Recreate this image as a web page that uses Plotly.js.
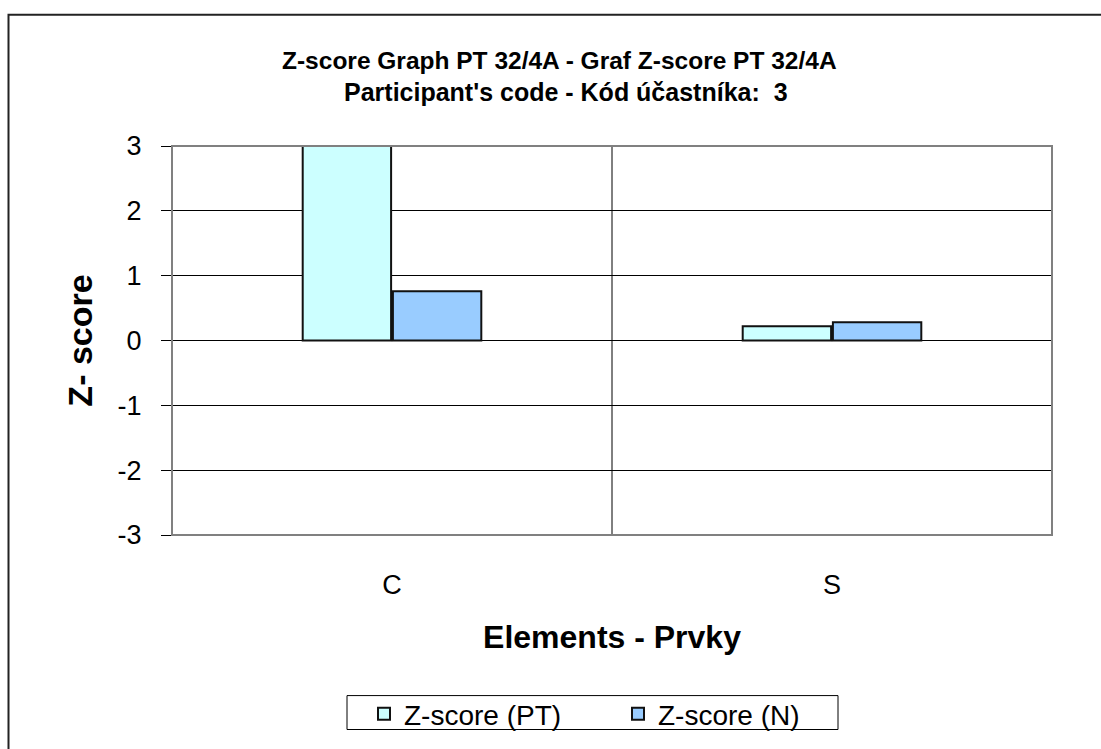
<!DOCTYPE html>
<html>
<head>
<meta charset="utf-8">
<script src="https://cdn.plot.ly/plotly-3.0.1.min.js"></script>
<style>html,body{margin:0;padding:0;background:#fff;}#chart{width:1101px;height:749px;}</style>
</head>
<body>
<div id="chart"></div>
<script>
// Data
var categories = ["C", "S"];
var seriesNames = ["Z-score (PT)", "Z-score (N)"];
var zPT = [3.4, 0.22];   // C value exceeds the axis (clipped at 3)
var zN = [0.76, 0.28];
var yTickVals = [-3, -2, -1, 0, 1, 2, 3];
var yTickLabels = ["-3", "-2", "-1", "0", "1", "2", "3"];
var titleLine1 = "Z-score Graph PT 32/4A - Graf Z-score PT 32/4A";
var titleLine2 = "Participant's code - Kód účastníka:  3";
var xTitle = "Elements - Prvky";
var yTitle = "Z- score";

var FONT = "'Liberation Sans', Arial, sans-serif";
var L = 172, W = 880, T = 146, H = 390;
function px(x) { return (x - L) / W; }
function py(y) { return (T + H - y) / H; }

var traces = [
  {type: "bar", name: seriesNames[0], x: categories, y: zPT,
   marker: {color: "#CCFFFF", line: {color: "#111", width: 2}}, cliponaxis: true},
  {type: "bar", name: seriesNames[1], x: categories, y: zN,
   marker: {color: "#99CCFF", line: {color: "#111", width: 2}}, cliponaxis: true}
];

var layout = {
  width: 1101, height: 749,
  margin: {l: L, r: 1101 - L - W, t: T, b: 749 - T - H},
  paper_bgcolor: "#fff", plot_bgcolor: "#fff",
  font: {family: FONT, color: "#000"},
  barmode: "group", bargap: 0.59, bargroupgap: 0.02,
  showlegend: true,
  legend: {orientation: "h", x: px(364), xanchor: "left", y: py(714), yanchor: "middle",
           bgcolor: "rgba(0,0,0,0)", borderwidth: 0, font: {size: 28, family: FONT},
           traceorder: "normal", itemwidth: 30, entrywidth: 209, entrywidthmode: "pixels"},
  xaxis: {type: "category", showgrid: false, zeroline: false, showline: false, ticks: "",
          tickfont: {size: 27}, ticklabelstandoff: 31,
          title: {text: xTitle, font: {size: 32, family: FONT, weight: "bold"}, standoff: 26}},
  yaxis: {range: [-3, 3], tickmode: "array", tickvals: yTickVals, ticktext: yTickLabels,
          showgrid: true, gridcolor: "#000", gridwidth: 1,
          zeroline: true, zerolinecolor: "#000", zerolinewidth: 1,
          showline: true, linecolor: "#000", linewidth: 1,
          ticks: "outside", ticklen: 10, tickcolor: "#000", tickfont: {size: 27},
          ticklabelstandoff: 14,
          title: {text: yTitle, font: {size: 34, family: FONT, weight: "bold"}, standoff: 14}},
  annotations: [
    {text: "<b>" + titleLine1 + "</b>", xref: "paper", yref: "paper", x: px(559), y: py(60),
     xanchor: "center", yanchor: "middle", showarrow: false, font: {size: 24.5, family: FONT}},
    {text: "<b>" + titleLine2 + "</b>", xref: "paper", yref: "paper", x: px(566), y: py(92),
     xanchor: "center", yanchor: "middle", showarrow: false, font: {size: 25, family: FONT}}
  ],
  shapes: [
    // plot area border (gray)
    {type: "rect", xref: "paper", yref: "paper", x0: 0, x1: 1, y0: 0, y1: 1,
     line: {color: "#808080", width: 2}, layer: "above"},
    // category divider
    {type: "line", xref: "x", yref: "paper", x0: 0.5, x1: 0.5, y0: 0, y1: 1,
     line: {color: "#000", width: 1}, layer: "below"},
    // legend frame
    {type: "rect", xref: "paper", yref: "paper", x0: px(347), x1: px(838), y0: py(731), y1: py(697),
     line: {color: "#000", width: 1}},
    // outer chart frame
    {type: "rect", xref: "paper", yref: "paper", x0: px(8.5), x1: 1.5, y0: -0.9, y1: py(14.5),
     line: {color: "#222", width: 2}}
  ]
};

Plotly.newPlot("chart", traces, layout, {displayModeBar: false, staticPlot: true});
</script>
</body>
</html>
